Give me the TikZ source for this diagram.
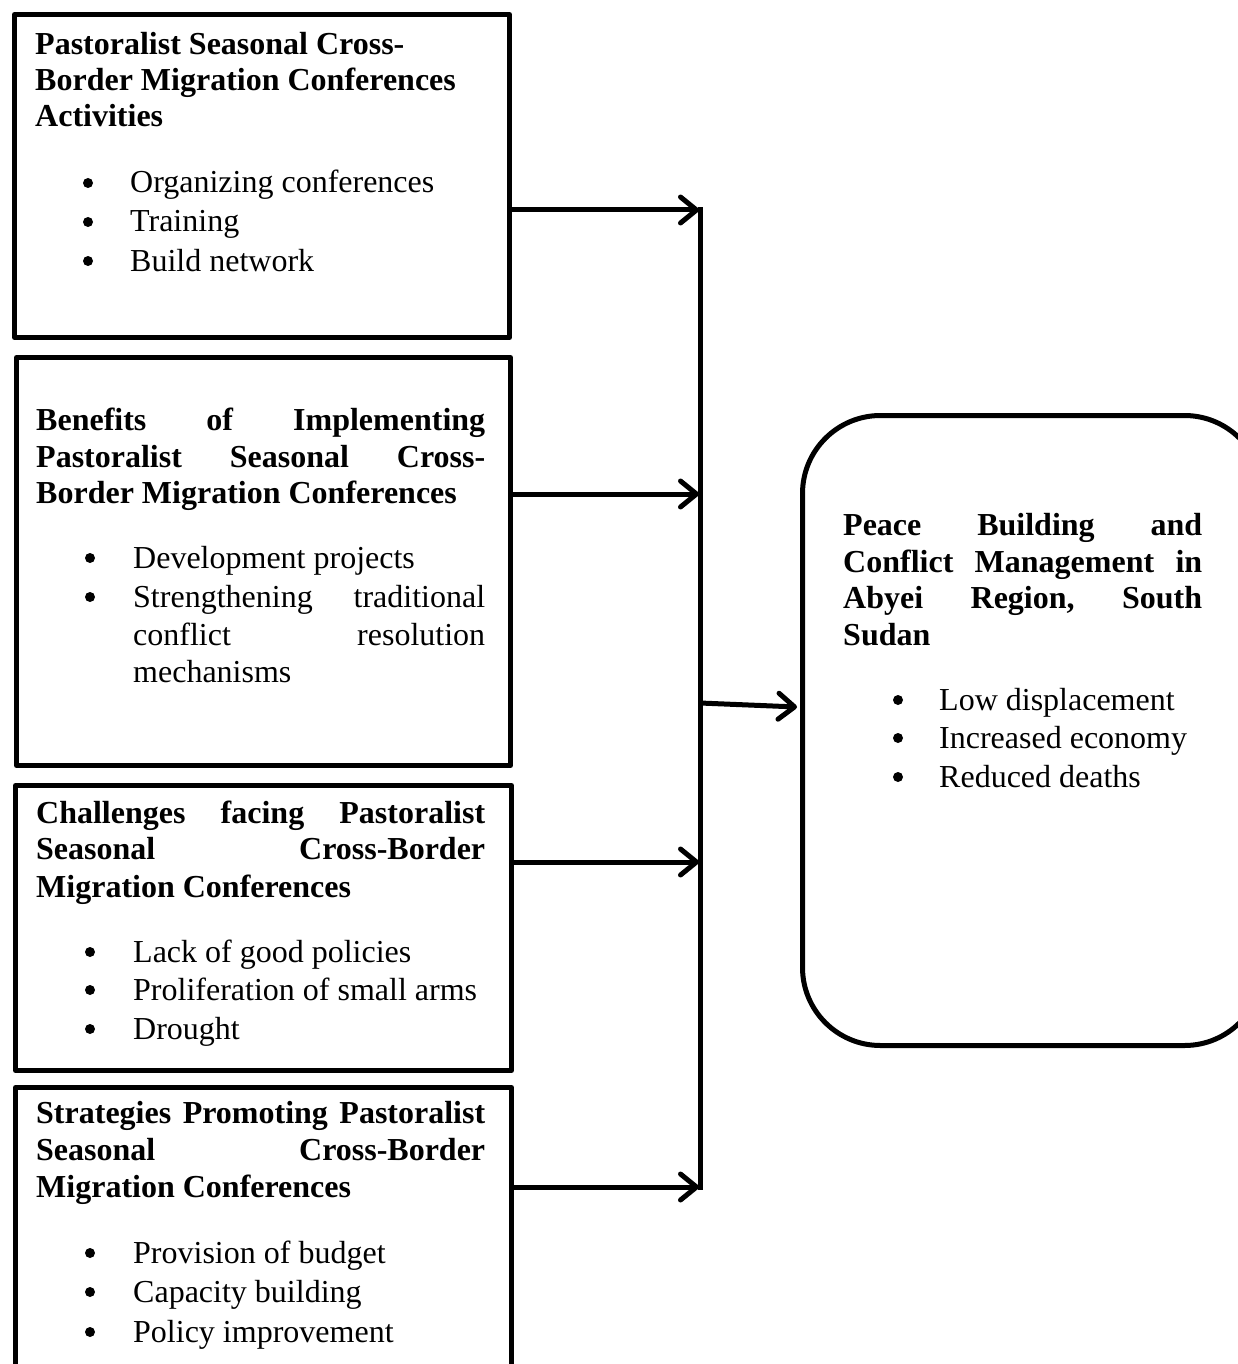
\documentclass[tikz,border=0pt]{standalone}
\usepackage{fontspec}
\setmainfont{Liberation Serif}
\usetikzlibrary{arrows.meta}
\begin{document}
\begin{tikzpicture}[x=1pt,y=-1pt,
  frame/.style={draw, line width=5pt, line join=round, anchor=north west, inner sep=0pt},
  txt/.style={anchor=base west, inner sep=0pt, font=\fontsize{32}{38}\selectfont},
  hd/.style={anchor=base west, inner sep=0pt, font=\fontsize{32}{38}\selectfont\bfseries},
  bul/.style={circle, fill=black, inner sep=0pt, minimum size=10pt, yshift=10pt},
  bus/.style={line width=5pt, line cap=rect},
  link/.style={line width=5pt, -{Straight Barb[length=16pt,width=26pt,line cap=round,line join=round]}}]
\clip (0,0) rectangle (1238,1364);
\fill[white] (0,0) rectangle (1238,1364);

% boxes
\node[frame, minimum width=495pt, minimum height=323pt] (b1) at (12,12) {};
\node[frame, minimum width=494pt, minimum height=408pt] (b2) at (14,355) {};
\node[frame, minimum width=496pt, minimum height=285pt] (b3) at (13,783) {};
\node[frame, minimum width=496pt, minimum height=320pt] (b4) at (13,1085) {};
\node[frame, rounded corners=78pt, minimum width=460pt, minimum height=630pt] (out) at (800,413) {};

% box 1 text
\node[hd] (h1a) at (35,55) {Pastoralist Seasonal Cross-};
\node[hd] (h1b) at (35,91) {Border Migration Conferences};
\node[hd] (h1c) at (35,127) {Activities};
\node[bul] (d1a) at (88,193) {};
\node[txt] (i1a) at (130,193) {Organizing conferences};
\node[bul] (d1b) at (88,232) {};
\node[txt] (i1b) at (130,232) {Training};
\node[bul] (d1c) at (88,271) {};
\node[txt] (i1c) at (130,271) {Build network};

% box 2 text
\node[hd] (h2a) at (36,430) {\makebox[449pt][l]{Benefits\hfill of\hfill Implementing}};
\node[hd] (h2b) at (36,467) {\makebox[449pt][l]{Pastoralist\hfill Seasonal\hfill Cross-}};
\node[hd] (h2c) at (36,503) {Border Migration Conferences};
\node[bul] (d2a) at (90,568) {};
\node[txt] (i2a) at (133,568) {Development projects};
\node[bul] (d2b) at (90,607) {};
\node[txt] (i2b) at (133,607) {\makebox[352pt][l]{Strengthening\hfill traditional}};
\node[txt] (i2c) at (133,645) {\makebox[352pt][l]{conflict\hfill resolution}};
\node[txt] (i2d) at (133,682) {mechanisms};

% box 3 text
\node[hd] (h3a) at (36,823) {\makebox[449pt][l]{Challenges\hfill facing\hfill Pastoralist}};
\node[hd] (h3b) at (36,859) {\makebox[449pt][l]{Seasonal\hfill Cross-Border}};
\node[hd] (h3c) at (36,897) {Migration Conferences};
\node[bul] (d3a) at (90,962) {};
\node[txt] (i3a) at (133,962) {Lack of good policies};
\node[bul] (d3b) at (90,1000) {};
\node[txt] (i3b) at (133,1000) {Proliferation of small arms};
\node[bul] (d3c) at (90,1039) {};
\node[txt] (i3c) at (133,1039) {Drought};

% box 4 text
\node[hd] (h4a) at (36,1123) {\makebox[449pt][l]{Strategies\hfill Promoting\hfill Pastoralist}};
\node[hd] (h4b) at (36,1160) {\makebox[449pt][l]{Seasonal\hfill Cross-Border}};
\node[hd] (h4c) at (36,1197) {Migration Conferences};
\node[bul] (d4a) at (90,1263) {};
\node[txt] (i4a) at (133,1263) {Provision of budget};
\node[bul] (d4b) at (90,1302) {};
\node[txt] (i4b) at (133,1302) {Capacity building};
\node[bul] (d4c) at (90,1342) {};
\node[txt] (i4c) at (133,1342) {Policy improvement};

% outcome text
\node[hd] (h5a) at (843,535) {\makebox[359pt][l]{Peace\hfill Building\hfill and}};
\node[hd] (h5b) at (843,572) {\makebox[359pt][l]{Conflict\hfill Management\hfill in}};
\node[hd] (h5c) at (843,608) {\makebox[359pt][l]{Abyei\hfill Region,\hfill South}};
\node[hd] (h5d) at (843,645) {Sudan};
\node[bul] (d5a) at (898,710) {};
\node[txt] (i5a) at (939,710) {Low displacement};
\node[bul] (d5b) at (898,748) {};
\node[txt] (i5b) at (939,748) {Increased economy};
\node[bul] (d5c) at (898,787) {};
\node[txt] (i5c) at (939,787) {Reduced deaths};

% connectors
\coordinate (j1) at (699,210);
\coordinate (j2) at (699,494);
\coordinate (j3) at (699,862);
\coordinate (j4) at (699,1187);
\coordinate (bt) at (700,210);
\coordinate (bb) at (700,1187);
\coordinate (jo) at (700,703);
\coordinate (ot) at (797,707);
\draw[bus] (bt) -- (bb);
\draw[link] (b1.east |- j1) -- (j1);
\draw[link] (b2.east |- j2) -- (j2);
\draw[link] (b3.east |- j3) -- (j3);
\draw[link] (b4.east |- j4) -- (j4);
\draw[link] (jo) -- (ot);
\end{tikzpicture}
\end{document}
